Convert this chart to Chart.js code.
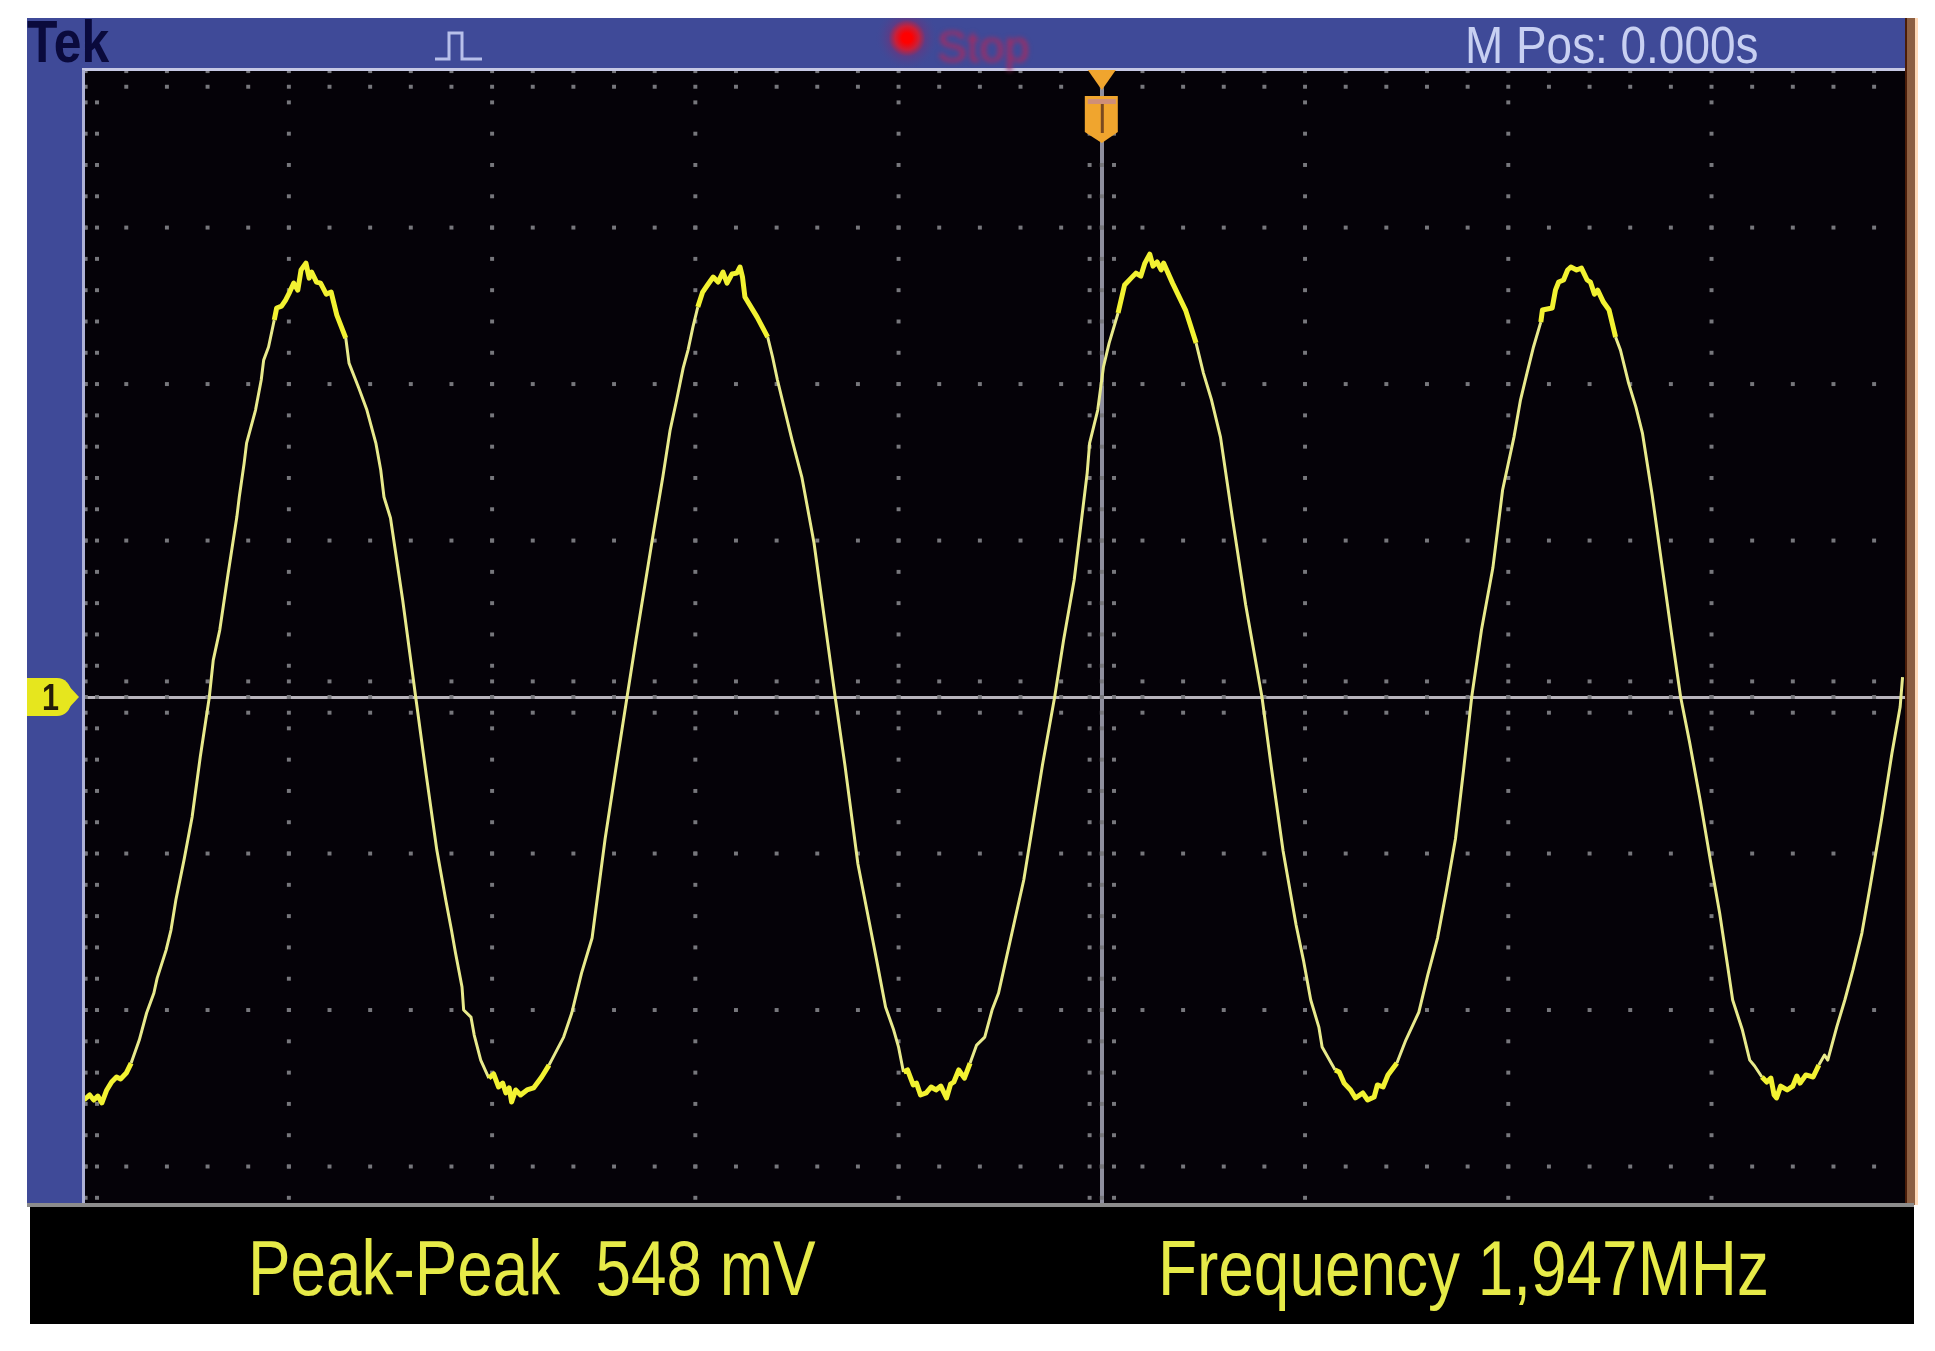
<!DOCTYPE html>
<html>
<head>
<meta charset="utf-8">
<title>Oscilloscope trace</title>
<script src="https://cdn.jsdelivr.net/npm/chart.js@4"></script>
<style>
  html, body { margin: 0; background: #fff; }
  canvas { display: block; filter: blur(0.6px); }
</style>
</head>
<body>
<canvas id="scope" width="1935" height="1351"></canvas>
<script>
// graticule divisions, 250 ns/div and 100 mV/div
const xDivNs = [-1250, -1000, -750, -500, -250, 0, 250, 500, 750]
const yDivMv = [400, 300, 200, 100, 0, -100, -200, -300]
const xMinorNs = [-1250, -1200, -1150, -1100, -1050, -1000, -950, -900, -850, -800, -750, -700, -650, -600, -550, -500, -450, -400, -350, -300, -250, -200, -150, -100, -50, 0, 50, 100, 150, 200, 250, 300, 350, 400, 450, 500, 550, 600, 650, 700, 750, 800, 850, 900, 950]
const yMinorMv = [380, 360, 340, 320, 300, 280, 260, 240, 220, 200, 180, 160, 140, 120, 100, 80, 60, 40, 20, 0, -20, -40, -60, -80, -100, -120, -140, -160, -180, -200, -220, -240, -260, -280, -300, -320]

// trace
const traceNs = [
  -1252, -1245, -1240, -1235, -1230, -1224, -1218, -1212, -1207, -1200, -1194, -1184, -1175, -1166, -1162, -1151, -1145, -1139, -1129, -1119,
  -1109, -1098, -1093, -1085, -1075, -1064, -1061, -1055, -1052, -1041, -1034, -1031, -1025, -1018, -1015, -1009, -1004, -999, -994, -989,
  -985, -979, -975, -972, -966, -961, -954, -948, -941, -930, -926, -914, -904, -893, -887, -883, -875, -860, -844, -831,
  -818, -807, -800, -795, -787, -785, -776, -772, -764, -754, -748, -742, -737, -733, -729, -726, -721, -715, -707, -699,
  -689, -680, -662, -652, -640, -627, -611, -598, -584, -573, -562, -551, -540, -531, -523, -515, -509, -503, -497, -491,
  -485, -478, -472, -466, -461, -455, -449, -445, -442, -439, -424, -411, -405, -399, -390, -381, -369, -354, -341, -328,
  -316, -300, -289, -277, -266, -256, -250, -244, -239, -232, -228, -223, -216, -210, -204, -198, -191, -186, -182, -176,
  -169, -162, -154, -144, -135, -127, -118, -107, -96, -84, -73, -58, -47, -34, -18, -15, -5, 2, 9, 20,
  28, 36, 42, 48, 53, 59, 63, 68, 73, 76, 87, 103, 116, 125, 135, 146, 161, 177, 197, 209,
  223, 239, 248, 257, 267, 271, 287, 292, 298, 306, 312, 321, 327, 335, 339, 346, 352, 363, 374, 390,
  401, 413, 424, 435, 445, 455, 467, 481, 493, 507, 515, 523, 531, 540, 542, 554, 558, 562, 568, 573,
  577, 584, 590, 597, 601, 606, 610, 617, 624, 632, 638, 648, 657, 665, 677, 689, 701, 712, 723, 736,
  750, 760, 770, 776, 788, 797, 803, 812, 818, 823, 827, 830, 835, 843, 850, 855, 859, 866, 875, 882,
  889, 893, 904, 914, 924, 935, 945, 959, 972, 982, 985
]
const traceMv = [
  -257.5, -254.3, -257.5, -255, -259.4, -251.1, -246, -242.8, -244.1, -240.3, -233.9, -219.2, -201.9, -189.1, -179.6, -161.7, -148.9, -129.7, -104.2, -76.7,
  -38.3, -0.6, 23.6, 42.8, 78, 115, 127.8, 149.5, 162.3, 183.4, 202.6, 215.3, 223.7, 240.9, 248.6, 249.8, 253.7, 258.8, 264.5, 260,
  272.9, 277.3, 267.7, 271.6, 265.2, 264.5, 257.5, 258.8, 244.1, 229.4, 213.4, 197.5, 183.4, 162.3, 145.1, 127.8, 114.4, 62, 0, -49.8,
  -97.8, -129.7, -148.9, -163.6, -185.3, -200, -204.5, -216, -232, -243.5, -240.9, -249.2, -246.7, -253, -249.8, -258.8, -251.1, -254.3, -251.1, -249.8,
  -242.8, -235.2, -217.3, -201.9, -176.4, -154, -90.7, -46.6, 0, 36.4, 71.6, 106.7, 140.6, 170.6, 189.8, 210.2, 221.7, 236.4, 249.2, 258.8,
  263.3, 268.4, 265.2, 271.6, 264.5, 270.3, 270.9, 274.8, 268.4, 255.6, 242.8, 230, 217.3, 202.6, 183.4, 164.2, 140.6, 98.4, 49.2, 0,
  -43.5, -106.7, -136.1, -168.1, -198.1, -212.8, -223.7, -239.6, -238.3, -247.9, -246.7, -254.3, -253, -249.2, -251.1, -248.6, -256.2, -247.3, -246, -238.3,
  -243.5, -233.9, -222.4, -217.3, -200, -189.1, -168.1, -142.5, -116.9, -78.6, -43.5, 0, 36.4, 74.8, 143.1, 162.3, 183.4, 210.9, 226.2, 245.4,
  263.3, 267.7, 270.9, 269, 277.3, 283, 275.4, 278, 272.9, 277.3, 264.5, 247.3, 226.2, 207, 189.8, 166.1, 113.1, 58.8, 0, -46.6,
  -98.4, -145.7, -168.1, -193.6, -210.9, -223.7, -238.3, -239.6, -246.7, -251.1, -256.2, -253, -257.5, -255.6, -247.9, -249.2, -241.5, -233.9, -219.2, -201.3,
  -177.6, -154, -123.3, -90.7, -46.6, 0, 42.8, 82.4, 132.3, 166.1, 189.8, 207, 223.7, 239.6, 247.3, 248.6, 260, 265.2, 266.5, 272.9,
  274.8, 272.9, 274.1, 266.5, 265.2, 257.5, 260, 252.4, 247.3, 230, 221.7, 200.6, 185.3, 168.7, 129.1, 84.3, 39.6, 0, -28.8, -65.8,
  -108.6, -138, -172.5, -193.6, -212.8, -232, -235.8, -242.8, -246, -243.5, -254.3, -256.2, -248.6, -251.1, -248.6, -242.2, -246.7, -241.5, -242.8, -235.2,
  -228.8, -232, -210.9, -193.6, -174.4, -150.8, -121.4, -78.6, -35.8, -6.4, 12.8
]

const screenText = {
  brand: 'Tek',
  state: 'Stop',
  position: 'M Pos: 0.000s',
  channel: '1',
  peak: 'Peak-Peak  548 mV',
  frequency: 'Frequency 1,947MHz'
}

const SANS = '"Liberation Sans", sans-serif'
const BLUE = '#3f4a98'
const TRACE = '#e8ea8c'
const TRACE_HOT = '#f2f232'

// dots of the graticule, as points on the same scales as the trace
const graticule = []
xDivNs.forEach(x => yMinorMv.forEach(y => graticule.push({ x, y })))
xMinorNs.forEach(x => yDivMv.forEach(y => graticule.push({ x, y })))
xMinorNs.forEach(x => {
  graticule.push({ x, y: 390 })
  graticule.push({ x, y: 10 })
  graticule.push({ x, y: -10 })
})
yMinorMv.forEach(y => {
  graticule.push({ x: -1236, y })
  graticule.push({ x: -15, y })
  graticule.push({ x: 15, y })
})

// no narrow face is installed, so the scope lettering is squeezed sideways
function label (ctx, text, x, y, font, color, squeeze) {
  ctx.save()
  ctx.translate(x, y)
  ctx.scale(squeeze || 1, 1)
  ctx.font = font
  ctx.fillStyle = color
  ctx.textAlign = 'left'
  ctx.textBaseline = 'alphabetic'
  ctx.fillText(text, 0, 0)
  ctx.restore()
}

const scopePanels = {
  id: 'scopePanels',
  beforeDraw (chart) {
    const { ctx, chartArea: a } = chart
    ctx.save()
    ctx.fillStyle = BLUE
    ctx.fillRect(27, 18, a.right - 27, a.top - 18)
    ctx.fillRect(27, 18, a.left - 27, a.bottom - 18)
    ctx.fillStyle = '#050208'
    ctx.fillRect(a.left, a.top, a.right - a.left, a.bottom - a.top)
    ctx.fillStyle = '#000'
    ctx.fillRect(30, a.bottom, 1884, 1324 - a.bottom)
    // orange edge on the right
    ctx.fillStyle = '#4a1c08'
    ctx.fillRect(a.right, 18, 2, a.bottom - 18)
    ctx.fillStyle = '#8d5f42'
    ctx.fillRect(a.right + 2, 18, 8, a.bottom - 18)
    ctx.fillStyle = '#ffd9b8'
    ctx.fillRect(a.right + 10, 18, 3, a.bottom - 18)
    ctx.restore()
  },
  afterDraw (chart) {
    const { ctx, chartArea: a, scales } = chart
    const x0 = scales.x.getPixelForValue(0)
    const y0 = scales.y.getPixelForValue(0)
    ctx.save()

    // frame lines
    ctx.fillStyle = '#c6c8e4'
    ctx.fillRect(a.left - 2, a.top - 2, a.right - a.left + 2, 3)
    ctx.fillStyle = '#aeb2d6'
    ctx.fillRect(a.left - 2, a.top, 3, a.bottom - a.top)
    ctx.fillStyle = '#8c8c8c'
    ctx.fillRect(27, a.bottom - 2, 1887, 4)

    // header
    label(ctx, screenText.brand, 27, 62, 'bold 60px ' + SANS, '#0a0a3c', 0.83)
    label(ctx, screenText.position, 1465, 63, '51px ' + SANS, '#c8d0f2', 0.9)

    // trigger type icon
    ctx.strokeStyle = '#b8c0ea'
    ctx.lineWidth = 3
    ctx.beginPath()
    ctx.moveTo(435, 59)
    ctx.lineTo(449, 59)
    ctx.lineTo(449, 33)
    ctx.lineTo(462, 33)
    ctx.lineTo(462, 59)
    ctx.lineTo(482, 59)
    ctx.stroke()

    // run state
    const glow = ctx.createRadialGradient(907, 38, 5, 907, 38, 32)
    glow.addColorStop(0, '#ff0000')
    glow.addColorStop(0.25, '#c8203a')
    glow.addColorStop(0.5, '#5a3d88')
    glow.addColorStop(1, 'rgba(63,74,152,0)')
    ctx.fillStyle = glow
    ctx.fillRect(875, 18, 64, 50)
    ctx.filter = 'blur(2.5px)'
    label(ctx, screenText.state, 937, 62, '45px ' + SANS, '#a82a60')
    ctx.filter = 'none'

    // trigger position marker
    ctx.fillStyle = '#f0a52e'
    ctx.beginPath()
    ctx.moveTo(x0 - 14, a.top)
    ctx.lineTo(x0 + 14, a.top)
    ctx.lineTo(x0, a.top + 20)
    ctx.closePath()
    ctx.fill()
    ctx.beginPath()
    ctx.moveTo(x0 - 17, 96)
    ctx.lineTo(x0 + 16, 96)
    ctx.lineTo(x0 + 16, 132)
    ctx.lineTo(x0, 143)
    ctx.lineTo(x0 - 17, 132)
    ctx.closePath()
    ctx.fill()
    ctx.fillStyle = '#cf8f78'
    ctx.fillRect(x0 - 14, 99, 28, 5)
    ctx.fillStyle = '#7a4a20'
    ctx.fillRect(x0 - 1, 104, 3, 29)

    // channel 1 ground marker
    ctx.fillStyle = '#e6e61e'
    ctx.beginPath()
    ctx.roundRect(27, y0 - 19, 44, 38, [0, 14, 14, 0])
    ctx.fill()
    ctx.beginPath()
    ctx.moveTo(66, y0 - 14)
    ctx.lineTo(79, y0)
    ctx.lineTo(66, y0 + 14)
    ctx.closePath()
    ctx.fill()
    label(ctx, screenText.channel, 42, y0 + 13, 'bold 36px ' + SANS, '#241c08', 0.85)

    // measurements
    label(ctx, screenText.peak, 248, 1295, '78px ' + SANS, '#e6ea48', 0.818)
    label(ctx, screenText.frequency, 1158, 1295, '77px ' + SANS, '#e6ea48', 0.83)
    ctx.restore()
  }
}

const centerLine = (color) => (c) => c.tick && c.tick.value === 0 ? color : 'rgba(0,0,0,0)'

new Chart(document.getElementById('scope'), {
  type: 'scatter',
  data: {
    datasets: [{
      label: 'CH1',
      data: traceNs.map((t, i) => ({ x: t, y: traceMv[i] })),
      showLine: true,
      tension: 0,
      pointRadius: 0,
      borderColor: TRACE,
      borderWidth: 3,
      borderJoinStyle: 'round',
      segment: {
        borderColor: c => Math.abs(c.p0.parsed.y) > 238 ? TRACE_HOT : undefined,
        borderWidth: c => Math.abs(c.p0.parsed.y) > 238 ? 5 : undefined
      }
    }, {
      label: 'graticule',
      data: graticule,
      pointStyle: 'rect',
      pointRadius: 2.8,
      backgroundColor: '#77777c',
      borderWidth: 0
    }]
  },
  options: {
    responsive: false,
    animation: false,
    devicePixelRatio: 1,
    layout: { padding: { left: 84, top: 70, right: 30, bottom: 146 } },
    plugins: { legend: { display: false }, tooltip: { enabled: false } },
    scales: {
      x: {
        type: 'linear',
        min: -1252,
        max: 988,
        afterBuildTicks: s => { s.ticks = xDivNs.map(value => ({ value })) },
        ticks: { display: false },
        border: { display: false },
        grid: { drawTicks: false, lineWidth: 4, color: centerLine('#8f8f9e') }
      },
      y: {
        type: 'linear',
        min: -324.6,
        max: 400.7,
        afterBuildTicks: s => { s.ticks = yDivMv.map(value => ({ value })) },
        ticks: { display: false },
        border: { display: false },
        grid: { drawTicks: false, lineWidth: 3, color: centerLine('#b8b4bc') }
      }
    }
  },
  plugins: [scopePanels]
})
</script>
</body>
</html>
